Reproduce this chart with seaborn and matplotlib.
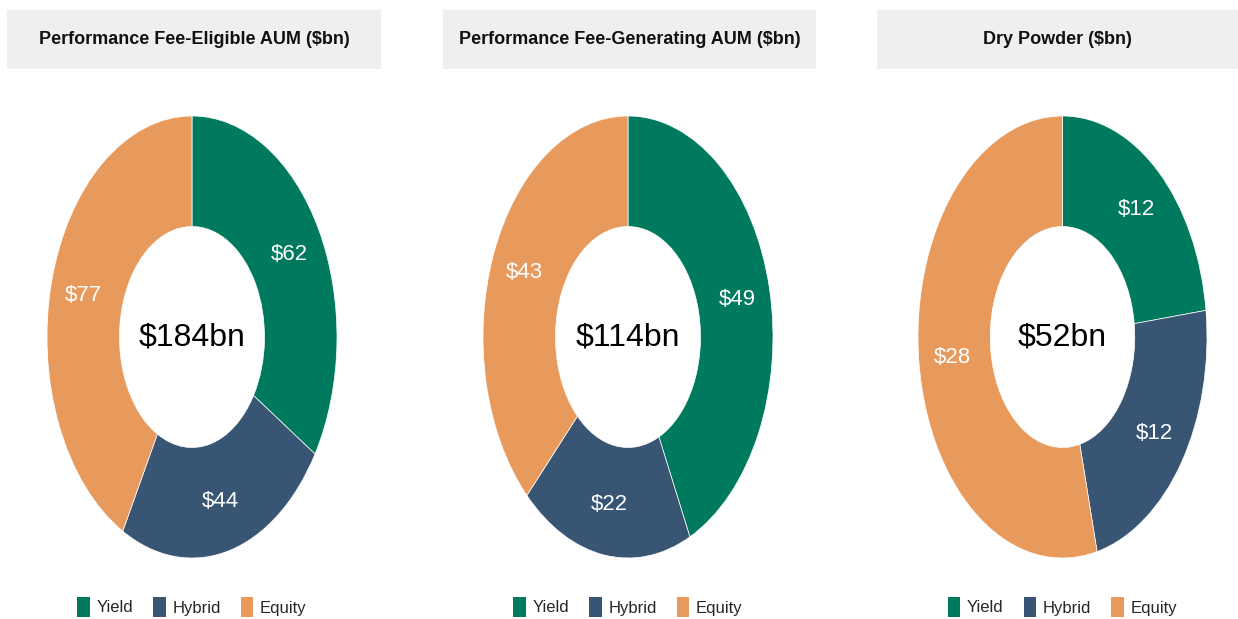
import numpy as np
import matplotlib
matplotlib.use("Agg")
import matplotlib.pyplot as plt
from matplotlib.patches import Rectangle, Patch
import seaborn as sns

# Données
titles = ["Performance Fee-Eligible AUM ($bn)",
          "Performance Fee-Generating AUM ($bn)",
          "Dry Powder ($bn)"]
categories = ["Yield", "Hybrid", "Equity"]
yield_vals = [62, 49, 12]
hybrid_vals = [44, 22, 12]
equity_vals = [77, 43, 28]
totals = [184, 114, 52]

sns.set_theme(style="white")
plt.rcParams['font.family'] = ['Liberation Sans', 'DejaVu Sans']
colors = ["#007A5E", "#385674", "#E89A5C"]

W, H = 1238, 619
fig = plt.figure(figsize=(W / 100, H / 100), dpi=100)

# positions en pixels (gauche, droite) des donuts et des bandeaux
donut_x = [(47, 337), (483, 773), (918, 1207)]
header_x = [(7, 381), (443, 816), (877, 1238)]
top, bottom = 116, 558

for i, title in enumerate(titles):
    vals = [yield_vals[i], hybrid_vals[i], equity_vals[i]]
    x0, x1 = donut_x[i]
    ax = fig.add_axes([x0 / W, 1 - bottom / H, (x1 - x0) / W, (bottom - top) / H])
    wedges, _, autotexts = ax.pie(
        vals, colors=colors, startangle=90, counterclock=False, radius=1,
        wedgeprops=dict(width=0.5, edgecolor="white", linewidth=0.5),
        autopct=lambda p, s=sum(vals): f"${p * s / 100:.0f}", pctdistance=0.77,
        textprops=dict(color="white", fontsize=16))
    ax.text(0, 0, f"${totals[i]}bn", ha="center", va="center", fontsize=23, color="black")
    ax.set_xlim(-1, 1)
    ax.set_ylim(-1, 1)
    ax.set_aspect("auto")
    ax.axis("off")

    # bandeau de titre
    hx0, hx1 = header_x[i]
    fig.patches.append(Rectangle((hx0 / W, 1 - 69 / H), (hx1 - hx0) / W, 59 / H,
                                 transform=fig.transFigure, facecolor="#EFEFEF",
                                 edgecolor="none", zorder=0))
    fig.text((hx0 + hx1) / 2 / W, 1 - 40 / H, title, ha="center", va="center",
             fontsize=13, fontweight="bold", color="#111111")

    # légende
    handles = [Patch(facecolor=c, edgecolor="none") for c in colors]
    fig.legend(handles, categories, loc="center",
               bbox_to_anchor=((x0 + x1) / 2 / W, 12 / H), ncol=3, frameon=False,
               fontsize=12, handlelength=0.75, handleheight=1.5, handletextpad=0.4,
               columnspacing=1.2, borderpad=0, borderaxespad=0)

fig.savefig("out.png", dpi=100)
